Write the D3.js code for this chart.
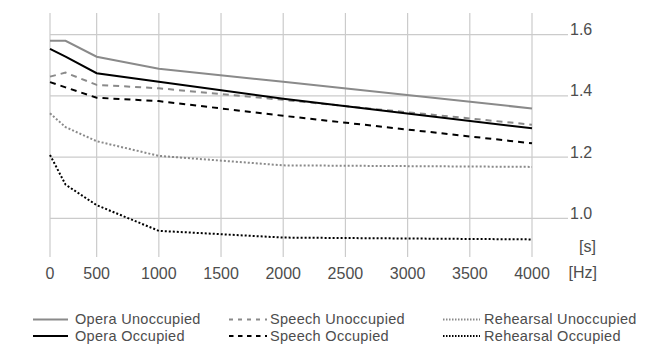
<!DOCTYPE html>
<html>
<head>
<meta charset="utf-8">
<script src="https://cdn.jsdelivr.net/npm/d3@7"></script>
<style>
  body { margin: 0; background: #fff; }
  text { font-family: "Liberation Sans", Arial, sans-serif; fill: #4d4d4d; }
</style>
</head>
<body>
<div id="chart"></div>
<script>
// frequencies (Hz) and reverberation times (s)
var freqs = [125, 250, 500, 1000, 2000, 4000];
var operaUnocc = [1.58, 1.58, 1.528, 1.489, 1.446, 1.359];
var operaOcc = [1.554, 1.528, 1.474, 1.446, 1.391, 1.294];
var speechUnocc = [1.463, 1.476, 1.436, 1.425, 1.387, 1.306];
var speechOcc = [1.445, 1.428, 1.394, 1.383, 1.335, 1.245];
var rehearsalUnocc = [1.343, 1.298, 1.252, 1.204, 1.173, 1.168];
var rehearsalOcc = [1.207, 1.11, 1.043, 0.959, 0.937, 0.931];

var seriesNames = ["Opera Unoccupied", "Speech Unoccupied", "Rehearsal Unoccupied",
                   "Opera Occupied", "Speech Occupied", "Rehearsal Occupied"];
var seriesValues = [operaUnocc, speechUnocc, rehearsalUnocc, operaOcc, speechOcc, rehearsalOcc];

var xTicks = [125, 500, 1000, 1500, 2000, 2500, 3000, 3500, 4000];
var xTickLabels = ["0", "500", "1000", "1500", "2000", "2500", "3000", "3500", "4000"];
var yTicks = [1.0, 1.2, 1.4, 1.6];

// line styles per series (same order as seriesNames)
var styles = [
  { color: "#8a8a8a", width: 2, dash: null, legendDash: null },
  { color: "#8a8a8a", width: 2, dash: "6,5", legendDash: "4,5" },
  { color: "#8a8a8a", width: 2, dash: "2,2", legendDash: "1.5,1.5" },
  { color: "#000", width: 2, dash: null, legendDash: null },
  { color: "#000", width: 2, dash: "6,5", legendDash: "4.5,4.5" },
  { color: "#000", width: 2, dash: "2,2", legendDash: "1.5,1.5" }
];

var svgWidth = 645, svgHeight = 356;
var plotTop = 13, plotBottom = 257, gridRight = 568;

var svg = d3.select("#chart").append("svg")
  .attr("width", svgWidth)
  .attr("height", svgHeight);

var x = d3.scaleLinear().domain([125, 4000]).range([50, 532]);
var y = d3.scaleLinear().domain([1.0, 1.6]).range([218.3, 34.7]);

// grid
svg.append("g").selectAll("line.v")
  .data(xTicks)
  .enter().append("line")
  .attr("x1", d => x(d)).attr("x2", d => x(d))
  .attr("y1", plotTop).attr("y2", plotBottom)
  .attr("stroke", "#cbcbcb").attr("stroke-width", 1.2);

svg.append("g").selectAll("line.h")
  .data(yTicks)
  .enter().append("line")
  .attr("x1", x(125)).attr("x2", gridRight)
  .attr("y1", d => y(d)).attr("y2", d => y(d))
  .attr("stroke", "#cbcbcb").attr("stroke-width", 1.2);

// tick labels
svg.append("g").selectAll("text")
  .data(xTicks)
  .enter().append("text")
  .attr("x", d => x(d))
  .attr("y", 279)
  .attr("text-anchor", "middle")
  .style("font-size", "16px")
  .text((d, i) => xTickLabels[i]);

svg.append("g").selectAll("text")
  .data(yTicks)
  .enter().append("text")
  .attr("x", 570)
  .attr("y", d => y(d) + 0.5)
  .style("font-size", "16px")
  .text(d => d3.format(".1f")(d));

svg.append("text").attr("x", 596).attr("y", 251.5)
  .attr("text-anchor", "end").style("font-size", "16px").text("[s]");
svg.append("text").attr("x", 597).attr("y", 278)
  .attr("text-anchor", "end").style("font-size", "16px").text("[Hz]");

// lines
var line = d3.line()
  .x((d, i) => x(freqs[i]))
  .y(d => y(d));

svg.append("g").selectAll("path")
  .data(seriesValues)
  .enter().append("path")
  .attr("d", d => line(d))
  .attr("fill", "none")
  .attr("stroke", (d, i) => styles[i].color)
  .attr("stroke-width", (d, i) => styles[i].width)
  .attr("stroke-dasharray", (d, i) => styles[i].dash);

// legend
var legendCols = [[33, 68, 75], [229, 267, 270], [443, 480, 484]];
var legendRows = [319.5, 336];

var legend = svg.append("g").selectAll("g")
  .data(seriesNames)
  .enter().append("g");

legend.append("line")
  .attr("x1", (d, i) => legendCols[i % 3][0])
  .attr("x2", (d, i) => legendCols[i % 3][1])
  .attr("y1", (d, i) => legendRows[Math.floor(i / 3)])
  .attr("y2", (d, i) => legendRows[Math.floor(i / 3)])
  .attr("stroke", (d, i) => styles[i].color)
  .attr("stroke-width", (d, i) => styles[i].width)
  .attr("stroke-dasharray", (d, i) => styles[i].legendDash);

legend.append("text")
  .attr("x", (d, i) => legendCols[i % 3][2])
  .attr("y", (d, i) => legendRows[Math.floor(i / 3)] + 4.8)
  .style("font-size", "14.5px")
  .style("letter-spacing", "0.3px")
  .text(d => d);
</script>
</body>
</html>
